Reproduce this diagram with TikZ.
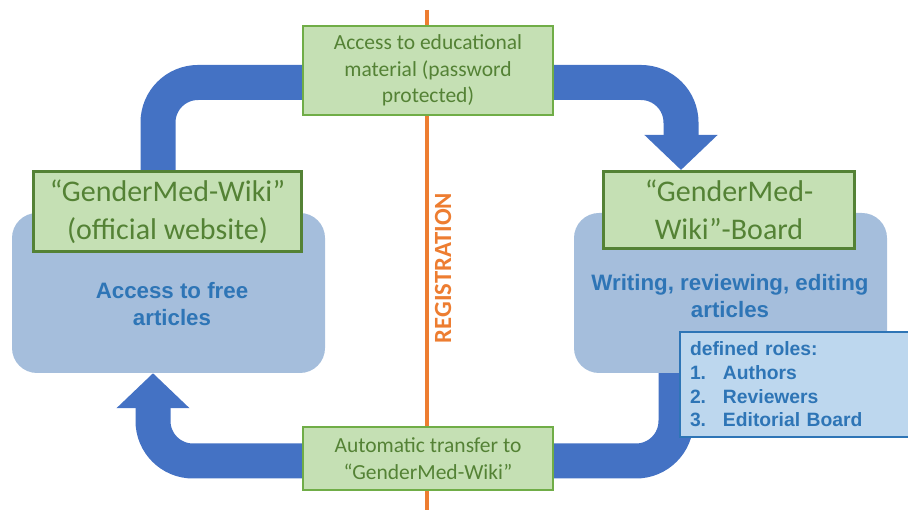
\documentclass[tikz,border=0pt]{standalone}
\usepackage{fontspec}
\setmainfont{Carlito}
\newfontfamily\arialfont{Liberation Sans}
\usetikzlibrary{arrows.meta,backgrounds}

\definecolor{flowblue}{HTML}{4472C4}
\definecolor{panelblue}{RGB}{165,190,220}
\definecolor{textblue}{HTML}{2E75B6}
\definecolor{rolefill}{HTML}{BDD7EE}
\definecolor{lightgreen}{HTML}{C5E0B4}
\definecolor{boxgreen}{HTML}{70AD47}
\definecolor{darkgreen}{HTML}{548235}
\definecolor{regorange}{HTML}{ED7D31}

\begin{document}
\begin{tikzpicture}[x=1pt,y=-1pt,
	panel/.style={fill=panelblue,rounded corners=25pt,minimum width=313pt,minimum height=160pt},
	paneltext/.style={text=textblue,align=center,font=\arialfont\bfseries\fontsize{22.3}{27}\selectfont},
	smallbox/.style={draw=boxgreen,line width=1.2pt,fill=lightgreen,text=darkgreen,align=center,
		inner sep=0pt,minimum width=250pt,font=\fontsize{21.5}{26.5}\selectfont},
	bigbox/.style={draw=darkgreen,line width=3pt,fill=lightgreen,text=darkgreen,align=center,
		inner sep=0pt,font=\fontsize{30}{38}\selectfont},
	flow/.style={draw=flowblue,line width=35pt,rounded corners=40pt,-{Triangle[width=71pt,length=35pt]}}]
	\useasboundingbox (0,0) rectangle (908,510);

	%blue panels
	\node[panel] (lfree) at (168.5,293) {};
	\node[panel] (rwrite) at (730.5,293) {};
	\node[paneltext] (lfreetext) at (172,304) {Access to free\\articles};
	\node[paneltext] (rwritetext) at (730,296) {Writing, reviewing, editing\\articles};

	%green labels
	\node[smallbox,minimum height=89pt] (edu) at (428,70.5) {Access to educational\\material (password\\protected)};
	\node[smallbox,minimum height=63pt] (auto) at (428,458.5) {Automatic transfer to\\“GenderMed-Wiki”};
	\node[bigbox,minimum width=268pt,minimum height=80pt] (lwiki) at (167.5,211.5) {“GenderMed-Wiki”\\(official website)};
	\node[bigbox,minimum width=251pt,minimum height=77pt] (rboard) at (729,210) {“GenderMed-\\Wiki”-Board};

	%roles
	\node[draw=textblue,line width=2pt,fill=rolefill,text=textblue,anchor=north west,
		minimum width=240pt,minimum height=105pt,inner xsep=10pt,text width=220pt,align=left,
		font=\arialfont\bfseries\fontsize{19.3}{23.7}\selectfont] (roles) at (679,331)
		{defined roles:\\\makebox[33pt][l]{1.}Authors\\\makebox[33pt][l]{2.}Reviewers\\\makebox[33pt][l]{3.}Editorial Board};

	%registration
	\node[rotate=90,text=regorange,font=\bfseries\fontsize{24.7}{24.7}\selectfont] (reg) at (443,268) {REGISTRATION};

	\begin{scope}[on background layer]
		\draw[regorange,line width=4pt] (427,10) -- (427,510);	%registration line
		\draw[flow] ([xshift=-9.5pt]lwiki.north) |- ([yshift=-12pt]edu.center) -| ([xshift=-48pt]rboard.north);	%top flow
		\draw[flow] ([xshift=-54.5pt]rwrite.south) |- ([yshift=-2.5pt]auto.center) -| ([xshift=-15.5pt]lfree.south);	%bottom flow
	\end{scope}
\end{tikzpicture}
\end{document}
